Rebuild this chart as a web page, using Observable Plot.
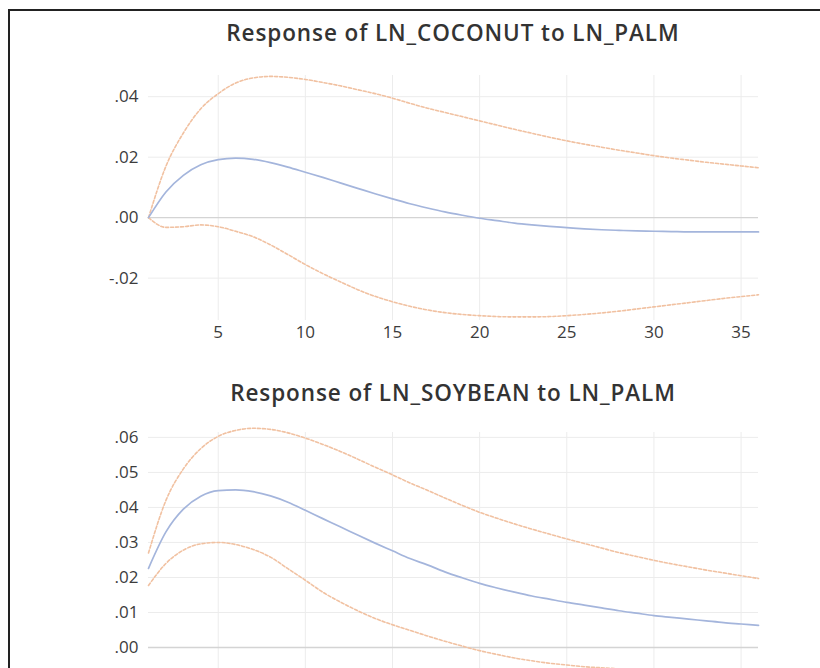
<!DOCTYPE html>
<html>
<head>
<meta charset="utf-8">
<script src="https://cdn.jsdelivr.net/npm/d3@7"></script>
<script src="https://cdn.jsdelivr.net/npm/@observablehq/plot@0.6"></script>
<style>
  html, body { margin: 0; padding: 0; background: #fff; overflow: hidden; }
  #root { position: relative; width: 820px; height: 668px; overflow: hidden; background: #fff; }
  #frame { position: absolute; left: 8px; top: 9px; width: 810px; height: 700px; box-sizing: content-box;
           border: 0; border-left: 2px solid #222; border-top: 2px solid #222; }
  .title { position: absolute; left: 100px; width: 706px; text-align: center;
           font-family: "Open Sans", "Noto Sans", sans-serif; font-size: 22.5px; font-weight: 600;
           letter-spacing: 0.9px; color: #333; line-height: 26px; white-space: nowrap; }
  .panel { position: absolute; left: 0; }
</style>
</head>
<body>
<div id="root">
  <div id="frame"></div>
  <div class="title" style="top:20px">Response of LN_COCONUT to LN_PALM</div>
  <div class="title" style="top:380px">Response of LN_SOYBEAN to LN_PALM</div>
  <div class="panel" id="p1" style="top:60px"></div>
  <div class="panel" id="p2" style="top:410px"></div>
</div>
<script>
// Periods (horizon)
const periods = d3.range(1, 37);
const xTicks = [5, 10, 15, 20, 25, 30, 35];

// Response of LN_COCONUT to LN_PALM
const cocoResp = [0.000, 0.0085, 0.0140, 0.0175, 0.0192, 0.0197, 0.0193, 0.0182, 0.0167, 0.0150,
  0.0133, 0.0115, 0.0097, 0.0079, 0.0062, 0.0046, 0.0032, 0.0019, 0.0008, -0.0002,
  -0.0010, -0.0018, -0.0024, -0.0029, -0.0033, -0.0037, -0.0040, -0.0042, -0.0044, -0.0045,
  -0.0046, -0.0047, -0.0047, -0.0047, -0.0047, -0.0047];
const cocoUpper = [0.000, 0.0170, 0.0280, 0.0360, 0.0410, 0.0445, 0.0462, 0.0467, 0.0464, 0.0457,
  0.0447, 0.0436, 0.0423, 0.0410, 0.0395, 0.0378, 0.0362, 0.0348, 0.0334, 0.0320,
  0.0306, 0.0292, 0.0279, 0.0266, 0.0254, 0.0243, 0.0233, 0.0223, 0.0214, 0.0205,
  0.0197, 0.0190, 0.0183, 0.0177, 0.0171, 0.0165];
const cocoLower = [0.000, -0.0032, -0.0030, -0.0024, -0.0030, -0.0045, -0.0063, -0.0090, -0.0122, -0.0155,
  -0.0185, -0.0212, -0.0238, -0.0260, -0.0278, -0.0293, -0.0305, -0.0314, -0.0320, -0.0324,
  -0.0327, -0.0328, -0.0328, -0.0327, -0.0324, -0.0320, -0.0315, -0.0309, -0.0302, -0.0295,
  -0.0288, -0.0281, -0.0274, -0.0267, -0.0261, -0.0255];
const cocoYTicks = [-0.02, 0.00, 0.02, 0.04];

// Response of LN_SOYBEAN to LN_PALM
const soyResp = [0.0226, 0.0330, 0.0395, 0.0432, 0.0448, 0.0450, 0.0445, 0.0433, 0.0415, 0.0392,
  0.0368, 0.0345, 0.0321, 0.0298, 0.0276, 0.0254, 0.0236, 0.0216, 0.0199, 0.0183,
  0.0170, 0.0158, 0.0147, 0.0138, 0.0129, 0.0121, 0.0113, 0.0105, 0.0098, 0.0091,
  0.0086, 0.0081, 0.0076, 0.0071, 0.0067, 0.0063];
const soyUpper = [0.0270, 0.0420, 0.0510, 0.0568, 0.0603, 0.0620, 0.0626, 0.0623, 0.0613, 0.0598,
  0.0580, 0.0560, 0.0538, 0.0515, 0.0493, 0.0470, 0.0449, 0.0427, 0.0406, 0.0386,
  0.0369, 0.0353, 0.0338, 0.0324, 0.0310, 0.0297, 0.0284, 0.0271, 0.0260, 0.0249,
  0.0239, 0.0230, 0.0221, 0.0213, 0.0205, 0.0197];
const soyLower = [0.0177, 0.0240, 0.0278, 0.0296, 0.0300, 0.0294, 0.0280, 0.0258, 0.0225, 0.0192,
  0.0158, 0.0130, 0.0105, 0.0083, 0.0065, 0.0049, 0.0033, 0.0018, 0.0004, -0.0009,
  -0.0020, -0.0030, -0.0038, -0.0045, -0.0050, -0.0055, -0.0058, -0.0061, -0.0063, -0.0064,
  -0.0065, -0.0065, -0.0065, -0.0064, -0.0063, -0.0062];
const soyYTicks = [0.00, 0.01, 0.02, 0.03, 0.04, 0.05, 0.06];

const fmt = d => d.toFixed(2).replace(/^(-?)0\./, "$1.");
const FONT = "'Open Sans', 'Noto Sans', sans-serif";

function panel(resp, upper, lower, yTicks, yDomain, height, marginTop, marginBottom, showX) {
  const rows = (vals, s) => periods.map((p, i) => ({period: p, value: vals[i], series: s}));
  const respRows = rows(resp, "resp");
  const bandRows = [...rows(upper, "upper"), ...rows(lower, "lower")];
  return Plot.plot({
    width: 820,
    height,
    marginLeft: 148,
    marginRight: 62,
    marginTop,
    marginBottom,
    style: {fontFamily: FONT, fontSize: "17px", color: "#3c3c3c", background: "transparent"},
    x: {domain: [1, 36], ticks: xTicks, tickSize: 0, tickPadding: 5, label: null, axis: showX ? "bottom" : null},
    y: {domain: yDomain, ticks: yTicks, tickFormat: fmt, tickSize: 0, tickPadding: 10, label: null},
    marks: [
      Plot.ruleX(xTicks, {stroke: "#ececec", strokeWidth: 1}),
      Plot.ruleY(yTicks.filter(t => t !== 0), {stroke: "#ececec", strokeWidth: 1}),
      Plot.ruleY([0], {stroke: "#d4d4d4", strokeWidth: 1.3}),
      Plot.line(bandRows, {x: "period", y: "value", z: "series", stroke: "#f1c1a1",
        strokeWidth: 1.6, strokeDasharray: "3,2", curve: "monotone-x"}),
      Plot.line(respRows, {x: "period", y: "value", stroke: "#a4b5dc",
        strokeWidth: 1.7, curve: "monotone-x"}),
      Plot.axisY({ticks: yTicks, tickFormat: fmt, tickSize: 0, tickPadding: 10, fill: "#3c3c3c"})
    ]
  });
}

document.getElementById("p1").append(
  panel(cocoResp, cocoUpper, cocoLower, cocoYTicks, [-0.034, 0.047], 285, 15, 25, true));
document.getElementById("p2").append(
  panel(soyResp, soyUpper, soyLower, soyYTicks, [-0.012, 0.0614], 279, 22, 0, false));
</script>
</body>
</html>
